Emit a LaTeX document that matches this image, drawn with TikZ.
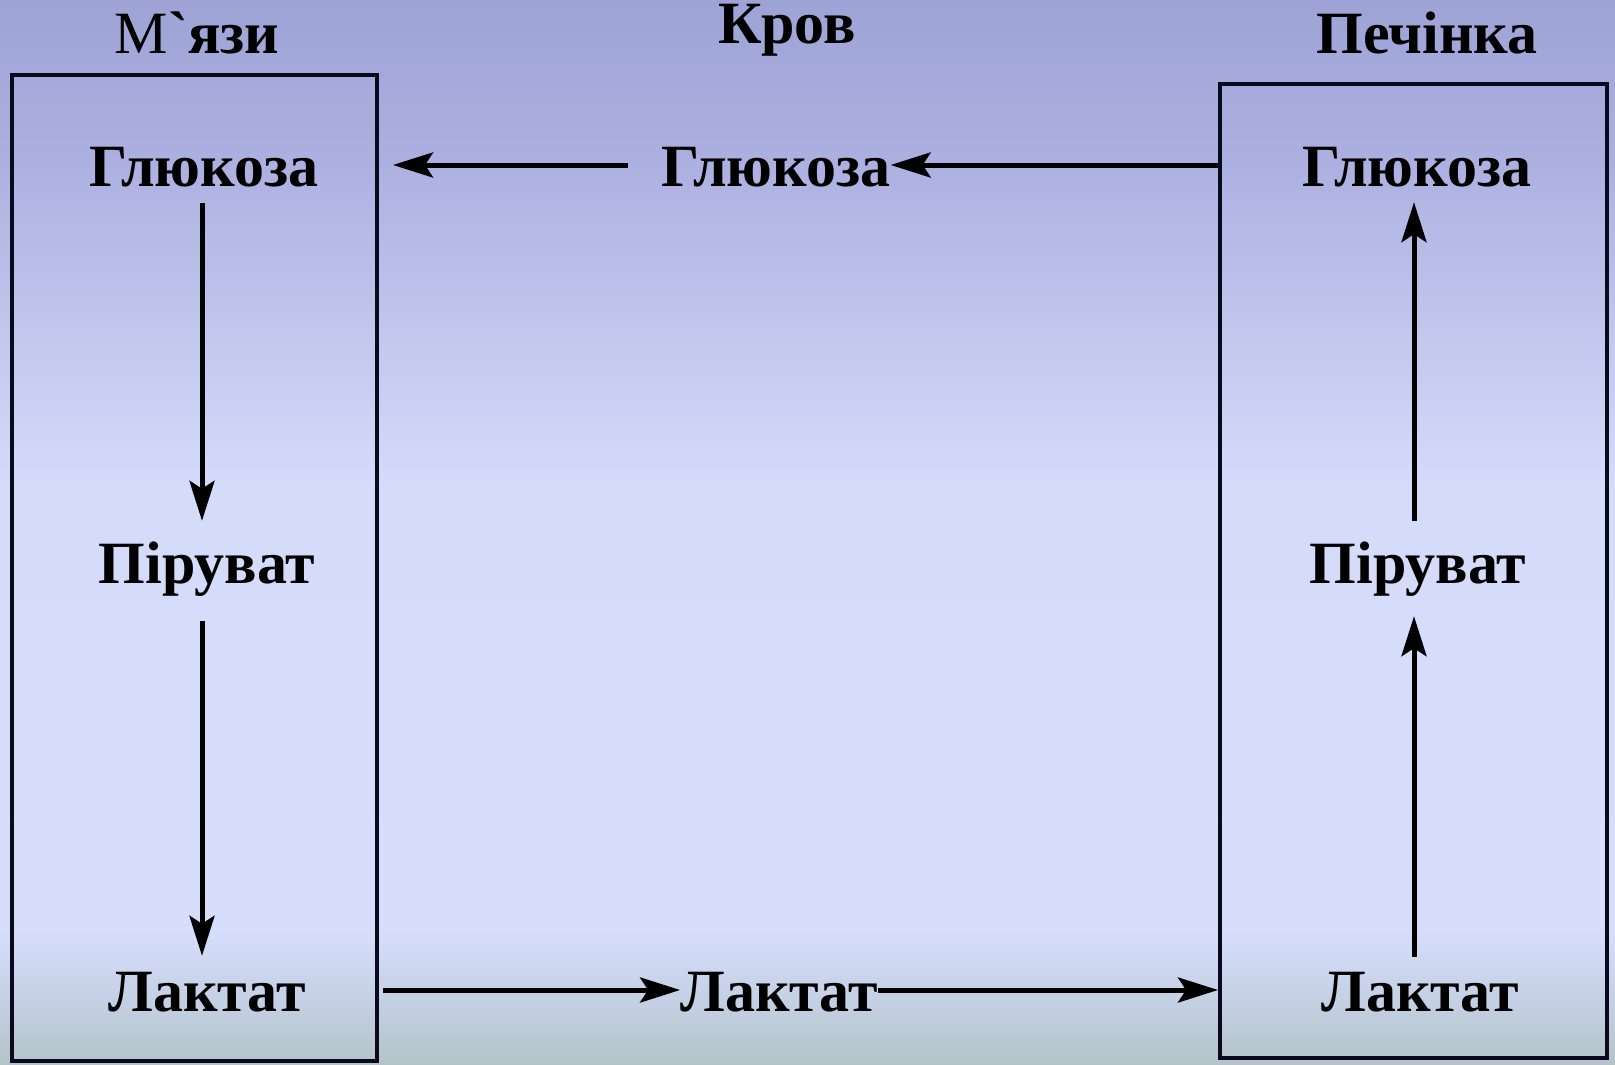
\documentclass[tikz,border=0pt]{standalone}
\usepackage{fontspec}
\newfontfamily\labelfont{Liberation Serif}
\usetikzlibrary{arrows.meta}

% background colours, top to bottom
\definecolor{bgA}{RGB}{158,163,214}
\definecolor{bgB}{RGB}{172,176,224}
\definecolor{bgC}{RGB}{213,220,250}
\definecolor{bgD}{RGB}{214,222,252}
\definecolor{bgE}{RGB}{196,208,228}
\definecolor{bgF}{RGB}{180,195,200}
\definecolor{frame}{RGB}{10,10,30}

\pgfdeclareverticalshading{bgshade}{100bp}{%
  color(0bp)=(bgF); color(25bp)=(bgF); color(28bp)=(bgE);
  color(31.3bp)=(bgD); color(52bp)=(bgC); color(67.5bp)=(bgB);
  color(75bp)=(bgA); color(100bp)=(bgA)}

\tikzset{
  lbl/.style={font=\labelfont\fontsize{60}{64}\selectfont\bfseries, inner sep=0pt,
              text height=42pt, text depth=0pt},
  organ/.style={draw=frame, line width=4pt, fill=none, inner sep=0pt},
  arr/.style={line width=5pt, draw=black,
              -{Stealth[length=40pt,width=25pt,inset=8pt]}},
}

\begin{document}
\begin{tikzpicture}[x=1pt, y=-1pt]
  \useasboundingbox (0,0) rectangle (1615,1065);
  \shade[shading=bgshade] (0,0) rectangle (1615,1065);

  % organ frames
  \node[organ, minimum width=365pt, minimum height=986pt] (lbox) at (194.5,568) {};
  \node[organ, minimum width=387pt, minimum height=974pt] (rbox) at (1413.5,571) {};

  % headings
  \node[lbl, anchor=base] (tm) at (197,54) {{\mdseries М}`язи};
  \node[lbl, anchor=base] (tk) at (787,44) {Кров};
  \node[lbl, anchor=base] (tp) at (1427,54) {Печінка};

  % muscle column
  \node[lbl, anchor=base] (gl) at (204,186) {Глюкоза};
  \node[lbl, anchor=base] (pl) at (207,583) {Піруват};
  \node[lbl, anchor=base] (ll) at (207,1011) {Лактат};

  % blood column
  \node[lbl, anchor=base] (gm) at (776,186) {Глюкоза};
  \node[lbl, anchor=base] (lm) at (779,1011) {Лактат};

  % liver column
  \node[lbl, anchor=base] (gr) at (1417,186) {Глюкоза};
  \node[lbl, anchor=base] (pr) at (1418,583) {Піруват};
  \node[lbl, anchor=base] (lr) at (1420,1011) {Лактат};

  % glycolysis in muscle
  \draw[arr, shorten <=17pt, shorten >=20pt] (gl.south -| 202,0) -- (pl.north -| 202,0);
  \draw[arr, shorten <=38pt, shorten >=13pt] (pl.south -| 202,0) -- (ll.north -| 202,0);

  % gluconeogenesis in liver
  \draw[arr, shorten <=12pt, shorten >=33pt] (lr.north -| 1414,0) -- (pr.south -| 1414,0);
  \draw[arr, shorten <=20pt, shorten >=16pt] (pr.north -| 1414,0) -- (gr.south -| 1414,0);

  % transport through blood
  \draw[arr] (rbox.west |- gm) -- (gm.east);
  \draw[arr, shorten <=33pt, shorten >=14pt] (gm.west) -- (lbox.east |- gm);
  \draw[arr, shorten <=4pt] (lbox.east |- lm) -- (lm.west);
  \draw[arr] (lm.east) -- (rbox.west |- lm);
\end{tikzpicture}
\end{document}
